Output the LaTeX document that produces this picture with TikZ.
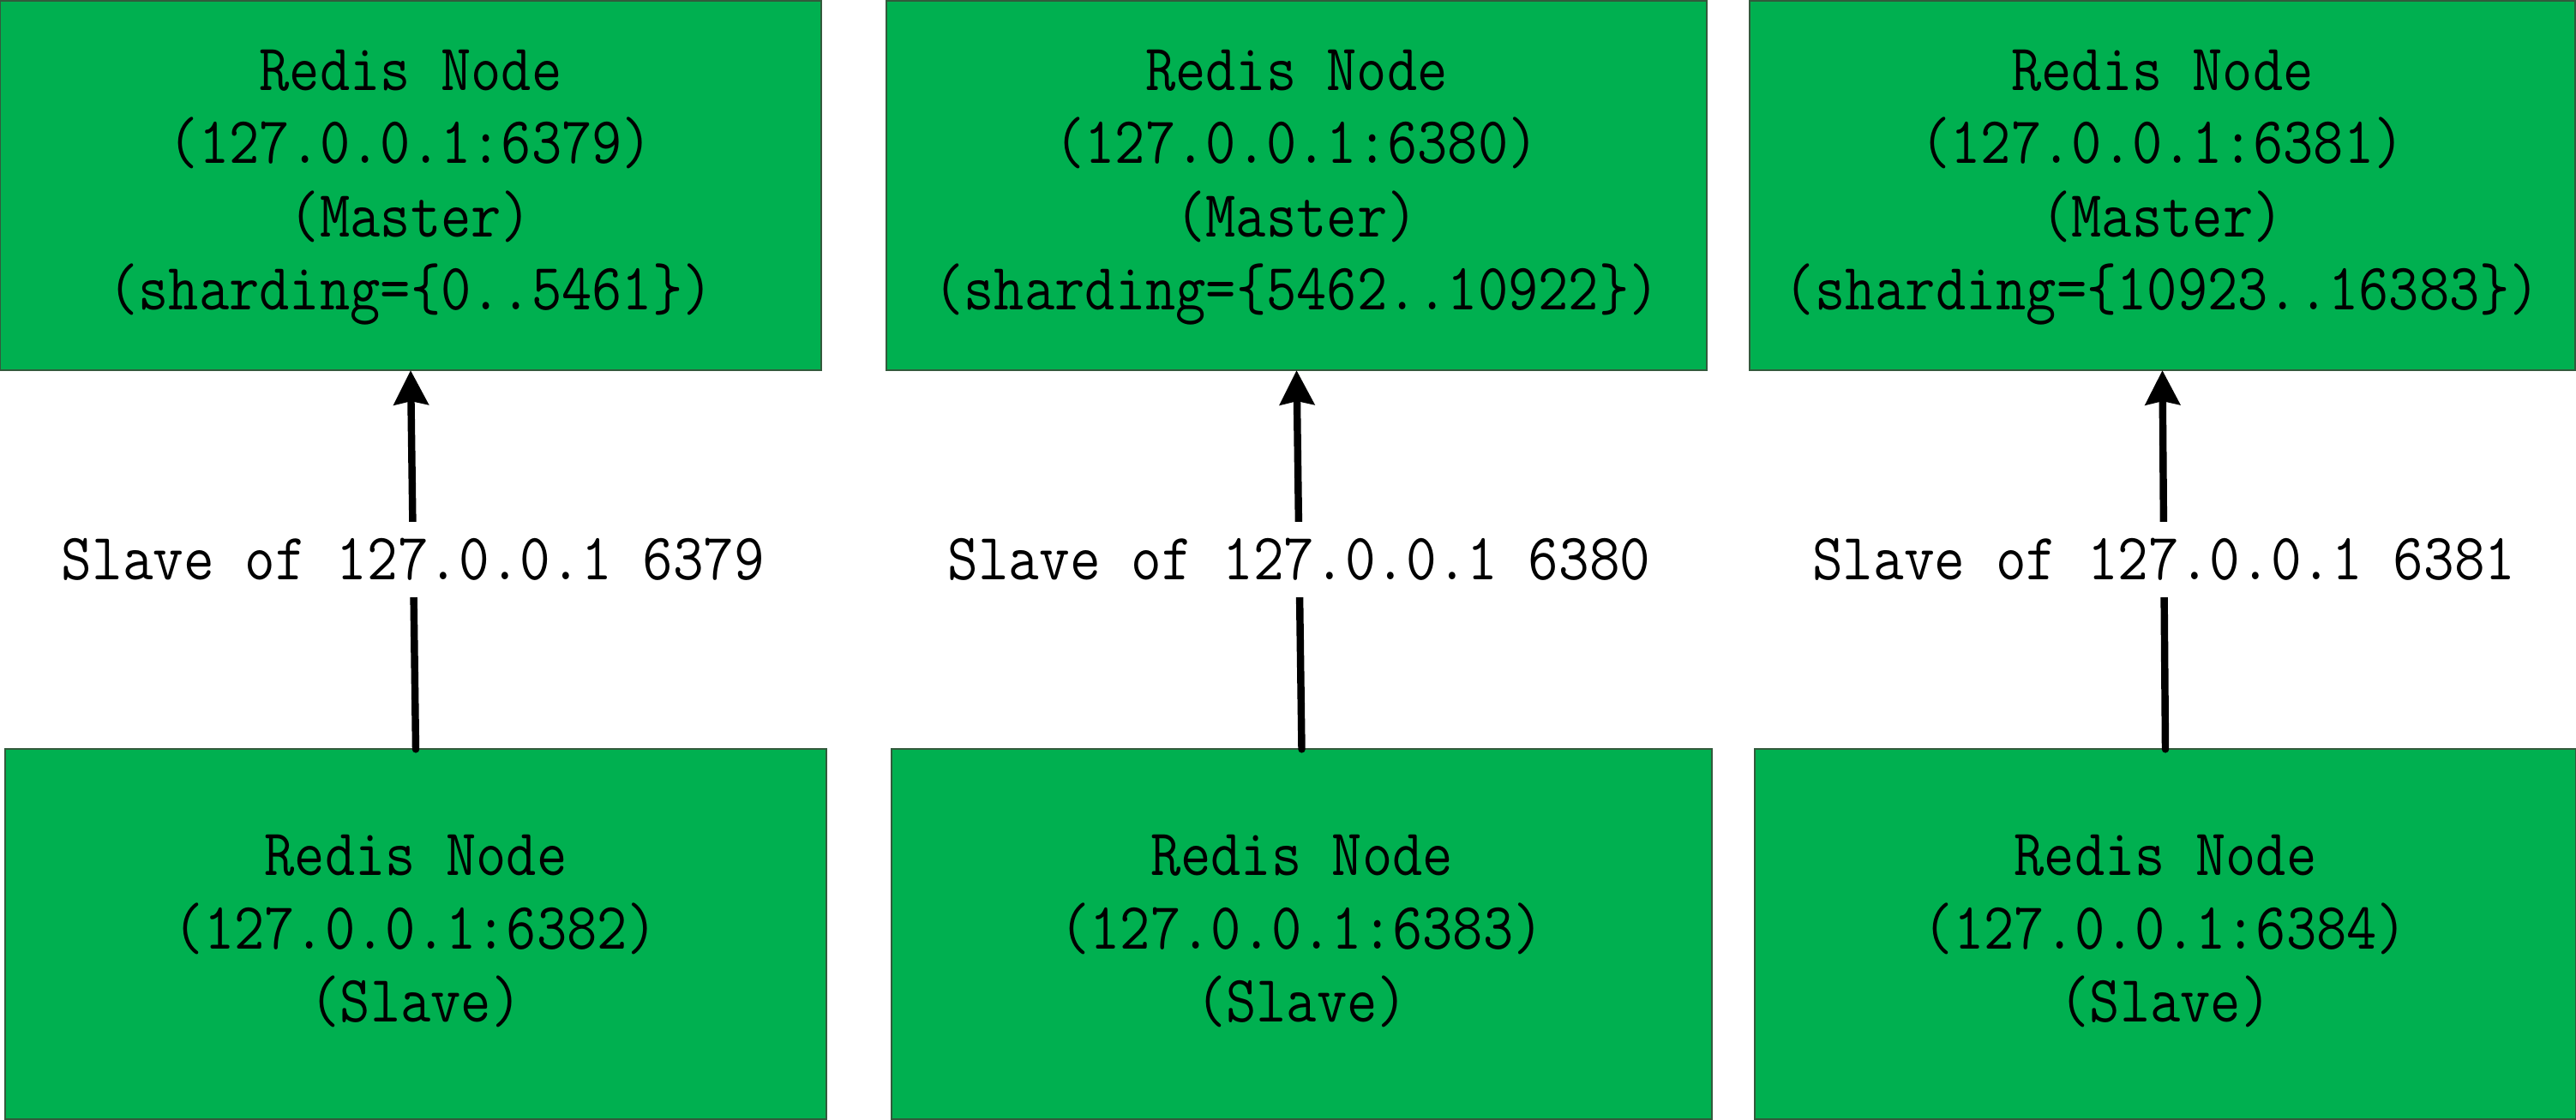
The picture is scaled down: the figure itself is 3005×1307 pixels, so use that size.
\documentclass[tikz,border=0pt]{standalone}
\usepackage{fontspec}
\usepackage{graphicx}
\usetikzlibrary{arrows.meta}
\definecolor{boxgreen}{RGB}{0,176,80}
\definecolor{boxedge}{RGB}{50,90,60}
\newcommand{\mytxt}[1]{\scalebox{0.885}[1]{\ttfamily\fontsize{22pt}{24.2pt}\selectfont\begin{tabular}{@{}c@{}}#1\end{tabular}}}
\newcommand{\mylbl}[1]{\scalebox{0.895}[1]{\ttfamily\fontsize{22pt}{24.2pt}\selectfont #1}}
\begin{document}
\begin{tikzpicture}[x=0.01cm,y=-0.01cm,
  rnode/.style={fill=boxgreen,draw=boxedge,line width=0.6pt,inner sep=0pt,outer sep=0pt,minimum height=4.31cm,minimum width=#1},
  rnode/.default=9.58cm,
  slavearrow/.style={line width=2.4pt,line cap=round,-{Stealth[length=0.40cm,width=0.40cm,inset=0.04cm]}},
  lbl/.style={midway,fill=white,inner xsep=3pt,inner ysep=5.5pt,text=black}]
\useasboundingbox (0,0) rectangle (3005,1307);
% masters
\node[rnode] (T1) at (479,216.5) {\mytxt{Redis Node\\(127.0.0.1:6379)\\(Master)\\(sharding=\{0..5461\})}};
\node[rnode=9.57cm] (T2) at (1512.5,216.5) {\mytxt{Redis Node\\(127.0.0.1:6380)\\(Master)\\(sharding=\{5462..10922\})}};
\node[rnode=9.63cm] (T3) at (2522.5,216.5) {\mytxt{Redis Node\\(127.0.0.1:6381)\\(Master)\\(sharding=\{10923..16383\})}};
% slaves
\node[rnode] (B1) at (485,1090) {\mytxt{Redis Node\\(127.0.0.1:6382)\\(Slave)}};
\node[rnode=9.57cm] (B2) at (1518.5,1090) {\mytxt{Redis Node\\(127.0.0.1:6383)\\(Slave)}};
\node[rnode] (B3) at (2526,1090) {\mytxt{Redis Node\\(127.0.0.1:6384)\\(Slave)}};
% replication arrows
\draw[slavearrow] (B1.north) -- node[lbl] (L1) {\mylbl{Slave of 127.0.0.1 6379}} (T1.south);
\draw[slavearrow] (B2.north) -- node[lbl] (L2) {\mylbl{Slave of 127.0.0.1 6380}} (T2.south);
\draw[slavearrow] (B3.north) -- node[lbl] (L3) {\mylbl{Slave of 127.0.0.1 6381}} (T3.south);
\end{tikzpicture}
\end{document}
